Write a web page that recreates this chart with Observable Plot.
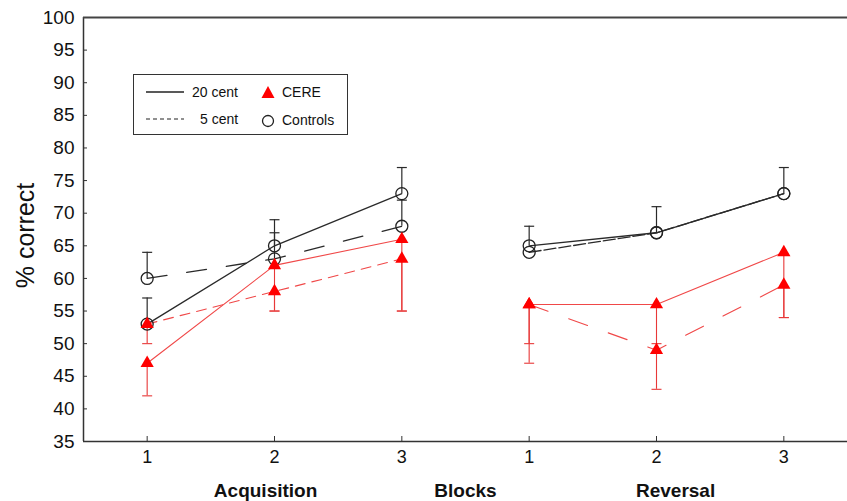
<!DOCTYPE html>
<html>
<head>
<meta charset="utf-8">
<script src="https://cdn.jsdelivr.net/npm/d3@7"></script>
<script src="https://cdn.jsdelivr.net/npm/@observablehq/plot@0.6"></script>
<style>
  html, body { margin: 0; padding: 0; background: #fff; }
  #wrap { position: relative; width: 847px; height: 501px; font-family: "Liberation Sans", Arial, sans-serif; }
  #legend {
    position: absolute; left: 133px; top: 74px; width: 213px; height: 59px;
    border: 1.5px solid #333; background: #fff; font-size: 14px; color: #111;
  }
  #legend .item { position: absolute; display: flex; align-items: center; }
  #legend svg { display: block; }
</style>
</head>
<body>
<div id="wrap"></div>
<script>
// ---- data ----
const blocks = [1, 2, 3, 1, 2, 3];
const phases = ["Acquisition", "Acquisition", "Acquisition", "Reversal", "Reversal", "Reversal"];
const phaseLabels = ["Acquisition", "Blocks", "Reversal"];
const phaseLabelPos = [0.93, 2.5, 4.15];
const yTicks = [35, 40, 45, 50, 55, 60, 65, 70, 75, 80, 85, 90, 95, 100];

const controls20 = [53, 65, 73, 65, 67, 73];
const controls20Err = [57, 69, 77, 68, 71, 77];
const controls5 = [60, 63, 68, 64, 67, 73];
const controls5Err = [64, 67, 72, null, null, null];
const cere20 = [47, 62, 66, 56, 56, 64];
const cere20Err = [42, 55, 55, 50, 50, 54];
const cere5 = [53, 58, 63, 56, 49, 59];
const cere5Err = [50, 55, 55, 47, 43, 54];

const seriesList = [
  {group: "Controls", cent: "20 cent", values: controls20, err: controls20Err},
  {group: "Controls", cent: "5 cent", values: controls5, err: controls5Err},
  {group: "CERE", cent: "20 cent", values: cere20, err: cere20Err},
  {group: "CERE", cent: "5 cent", values: cere5, err: cere5Err}
];

const rows = [];
for (const s of seriesList) {
  s.values.forEach((v, i) => rows.push({
    pos: i, block: blocks[i], phase: phases[i], group: s.group, cent: s.cent,
    key: s.group + "|" + s.cent + "|" + phases[i], value: v, err: s.err[i]
  }));
}

// styles
const lineStyle = {
  "Controls|20 cent|Acquisition": {stroke: "#2a2a2a", dash: null, w: 1.3},
  "Controls|20 cent|Reversal": {stroke: "#2a2a2a", dash: null, w: 1.3},
  "Controls|5 cent|Acquisition": {stroke: "#2a2a2a", dash: "20,20", w: 1.3},
  "Controls|5 cent|Reversal": {stroke: "#2a2a2a", dash: "12,3", w: 1.3},
  "CERE|20 cent|Acquisition": {stroke: "#f04848", dash: null, w: 1.1},
  "CERE|20 cent|Reversal": {stroke: "#f04848", dash: null, w: 1.1},
  "CERE|5 cent|Acquisition": {stroke: "#f04848", dash: "10,7", w: 1.1},
  "CERE|5 cent|Reversal": {stroke: "#f04848", dash: "20,22", w: 1.1}
};

const capSymbol = {
  draw(ctx, size) {
    const r = Math.sqrt(size / Math.PI);
    ctx.moveTo(-r, 0); ctx.lineTo(r, 0);
  }
};

const xDomain = [-0.5, 5.5];
const yDomain = [35, 100];

const lineMarks = Object.entries(lineStyle).map(([k, st]) =>
  Plot.line(rows.filter(d => d.key === k), {
    x: "pos", y: "value", stroke: st.stroke, strokeWidth: st.w,
    strokeDasharray: st.dash || undefined
  })
);

const ctrl = rows.filter(d => d.group === "Controls");
const cere = rows.filter(d => d.group === "CERE");
const ctrlErr = ctrl.filter(d => d.err != null);
const cereErr = cere.filter(d => d.err != null);

const chart = Plot.plot({
  width: 847,
  height: 501,
  marginLeft: 83,
  marginRight: 0,
  marginTop: 17,
  marginBottom: 60,
  style: {fontFamily: "Liberation Sans, Arial, sans-serif", background: "#fff", color: "#111"},
  x: {domain: xDomain, label: null},
  y: {domain: yDomain, label: null},
  marks: [
    // error bars
    Plot.ruleX(ctrlErr, {x: "pos", y1: "value", y2: "err", stroke: "#2a2a2a", strokeWidth: 1.2}),
    Plot.dot(ctrlErr, {x: "pos", y: "err", symbol: capSymbol, r: 5, stroke: "#2a2a2a", strokeWidth: 1.2, fill: "none"}),
    Plot.ruleX(cereErr, {x: "pos", y1: "value", y2: "err", stroke: "#e83838", strokeWidth: 1.1}),
    Plot.dot(cereErr, {x: "pos", y: "err", symbol: capSymbol, r: 5, stroke: "#e83838", strokeWidth: 1.1, fill: "none"}),
    ...lineMarks,
    Plot.dot(ctrl, {x: "pos", y: "value", r: 6, stroke: "#222", strokeWidth: 1.3, fill: "none"}),
    Plot.dot(cere, {x: "pos", y: "value", symbol: "triangle", r: 4.9, fill: "#ff0000", stroke: "none"}),
    // axes
    Plot.axisY({ticks: yTicks, tickSize: 0, tickPadding: 9, fontSize: 19, label: null}),
    Plot.axisY({ticks: yTicks.filter(t => t !== yDomain[0] && t !== yDomain[1]), tickSize: -4, text: null, label: null, stroke: "#333"}),
    Plot.axisX({ticks: d3.range(blocks.length), tickFormat: i => blocks[i], tickSize: 0, tickPadding: 9, fontSize: 18, label: null}),
    Plot.axisX({ticks: d3.range(blocks.length), tickSize: -5, text: null, label: null, stroke: "#333"}),
    Plot.ruleX([xDomain[0]], {stroke: "#333", strokeWidth: 1.5}),
    Plot.ruleY([yDomain[0]], {stroke: "#333", strokeWidth: 1.5}),
    Plot.ruleY([yDomain[1]], {stroke: "#444", strokeWidth: 2}),
    // axis titles
    Plot.text(phaseLabels, {x: (d, i) => phaseLabelPos[i], text: d => d, frameAnchor: "bottom", lineAnchor: "middle", dy: 49, fontSize: 19, fontWeight: "bold", fill: "#111"}),
    Plot.text(["% correct"], {frameAnchor: "left", textAnchor: "middle", lineAnchor: "middle", dx: -58, dy: 6, rotate: -90, text: d => d, fontSize: 25, fill: "#111"})
  ]
});

const wrap = document.getElementById("wrap");
wrap.appendChild(chart);

// legend
const legend = document.createElement("div");
legend.id = "legend";
legend.innerHTML = `
  <div class="item" style="left:12px;top:9px;">
    <svg width="40" height="12"><line x1="0" y1="6" x2="38" y2="6" stroke="#222" stroke-width="1.3"/></svg>
    <span style="margin-left:6px">20 cent</span>
  </div>
  <div class="item" style="left:12px;top:36px;">
    <svg width="40" height="12"><line x1="0" y1="6" x2="38" y2="6" stroke="#222" stroke-width="1.1" stroke-dasharray="4,3"/></svg>
    <span style="margin-left:14px">5 cent</span>
  </div>
  <div class="item" style="left:126px;top:9px;">
    <svg width="16" height="14"><path d="M8,1 L14.5,13 L1.5,13 Z" fill="#ff0000"/></svg>
    <span style="margin-left:6px">CERE</span>
  </div>
  <div class="item" style="left:126px;top:37px;">
    <svg width="16" height="16"><circle cx="8" cy="9" r="5.5" fill="none" stroke="#222" stroke-width="1.3"/></svg>
    <span style="margin-left:6px">Controls</span>
  </div>`;
wrap.appendChild(legend);
</script>
</body>
</html>
